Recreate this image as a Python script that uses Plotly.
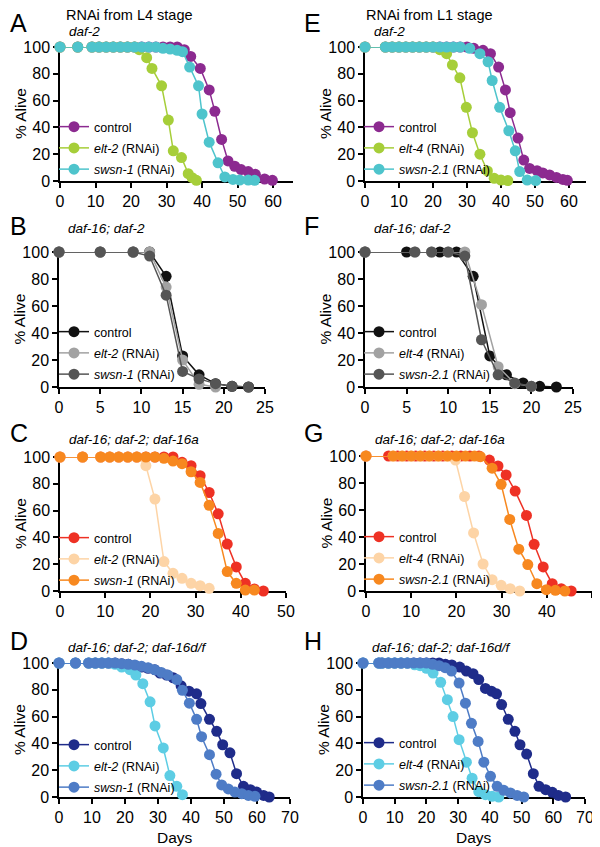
import plotly.graph_objects as go

W, H = 600, 847          # window size
OFF = 8                  # page body margin
FW, FH = W - OFF, H - OFF
FONT = "Liberation Sans, Arial, Helvetica, sans-serif"

# ---------------- data ----------------
# Panel A : daf-2, RNAi from L4
A_ctrl_x = [0, 5, 9, 11, 13, 15, 17, 19, 21, 23, 25, 27, 29, 31, 33, 35, 36.8, 39.5, 42, 43.6, 45.5, 47.3, 49.2, 51, 53, 55, 57.6, 59.8]
A_ctrl_y = [100, 100, 100, 100, 100, 100, 100, 100, 100, 100, 100, 100, 100, 100, 100, 98, 93, 84, 68, 52, 31, 15, 11, 8.5, 7, 5, 1.5, 0.5]
A_elt_x = [0, 5, 9, 11, 13, 15, 17, 19, 21, 22.3, 24.4, 25.9, 28.6, 30.5, 31.9, 34.2, 36.1, 37.2, 38.4]
A_elt_y = [100, 100, 100, 100, 100, 100, 100, 100, 100, 98, 92, 84, 71, 45.5, 22.5, 17.5, 5.5, 2.5, 0.5]
A_swsn_x = [0, 5, 9, 11, 13, 15, 17, 19, 21, 23, 25, 27, 29, 31, 33, 34.5, 36.5, 39, 40, 42, 44.5, 46.4, 48.7, 50.6, 53, 54.8]
A_swsn_y = [100, 100, 100, 100, 100, 100, 100, 100, 100, 100, 100, 100, 99, 98.5, 97.5, 96.5, 85, 71, 50, 29, 13.6, 3, 1.2, 0.7, 0.7, 0.5]

# Panel B : daf-16; daf-2, RNAi from L4
B_ctrl_x = [0, 5, 9, 11, 13, 15, 17, 19, 21, 23]
B_ctrl_y = [100, 100, 100, 100, 82, 23, 9, 2.5, 0.5, 0]
B_elt_x = [0, 5, 9, 11, 13, 15, 17, 19]
B_elt_y = [100, 100, 100, 100, 74, 20, 2, 0]
B_swsn_x = [0, 5, 9, 11, 13, 15, 17, 19, 21, 23]
B_swsn_y = [100, 100, 100, 97, 68, 11.5, 6, 2.5, 0.5, 0]

# Panel C : daf-16; daf-2; daf-16a, RNAi from L4
C_ctrl_x = [0, 5, 9, 11, 13, 15, 17, 19, 21, 23, 25, 27, 29, 31, 33, 35, 37, 39, 41, 43, 45]
C_ctrl_y = [100, 100, 100, 100, 100, 100, 100, 100, 100, 100, 100, 96, 93.5, 86, 73.5, 57.6, 35, 18, 5.7, 1.5, 0]
C_elt_x = [0, 5, 9, 11, 13, 15, 17, 19, 21, 23, 25, 27, 29, 31, 33]
C_elt_y = [100, 100, 100, 100, 100, 100, 100, 93.5, 68.6, 22, 13.2, 9.5, 5.7, 4, 2]
C_swsn_x = [0, 5, 9, 11, 13, 15, 17, 19, 21, 23, 25, 27, 29, 31, 33, 35, 37, 39, 41, 43]
C_swsn_y = [100, 100, 100, 100, 100, 100, 100, 100, 100, 99, 97, 95, 89, 81, 64, 43, 14.5, 5.7, 0.7, 0.7]

# Panel D : daf-16; daf-2; daf-16d/f, RNAi from L4
D_ctrl_x = [0, 5, 9, 11, 13, 15, 17, 19, 21, 23, 25, 27, 29, 30.6, 32.6, 34.6, 37, 39.4, 41.7, 43, 45.6, 47.8, 49.6, 51.8, 53.8, 55.9, 58, 59.9, 62, 63.7]
D_ctrl_y = [100, 100, 100, 100, 100, 100, 100, 99.5, 99, 98, 97, 96, 95, 92.5, 91, 89, 83, 79, 77, 69.7, 58, 49, 39, 33, 17.4, 8, 5.5, 3.7, 1.2, 0]
D_elt_x = [0, 5, 9, 11, 13, 15, 17, 19, 21.5, 23.3, 25.4, 27.6, 29.1, 31.6, 33.6, 35.7, 37.4]
D_elt_y = [100, 100, 100, 100, 100, 100, 99, 97, 95, 91, 84.6, 71, 53, 36.6, 16, 8, 1.7]
D_swsn_x = [0, 5, 9, 11, 13, 15, 17, 19, 21, 23, 25, 27, 29, 31, 33, 35.7, 37.4, 39.5, 41.7, 43.2, 45.6, 47.6, 49.3, 51.3, 53.3, 55.4, 57.4, 59.4]
D_swsn_y = [100, 100, 100, 100, 100, 100, 100, 99.5, 99, 98.5, 97.5, 96.5, 95, 93, 91, 87.6, 79.6, 70, 58, 45, 31.6, 17, 9, 6, 3.7, 2.5, 1.2, 0.5]

# Panel E : daf-2, RNAi from L1
E_ctrl_x = [0, 6, 8, 10, 12, 14, 16, 18, 20, 22, 24, 26, 28, 30, 32, 34.7, 36.9, 39.3, 41.3, 42.7, 45, 46.7, 48.4, 50.6, 52.3, 54.3, 56.3, 58.2, 59.5]
E_ctrl_y = [100, 100, 100, 100, 100, 100, 100, 100, 100, 100, 100, 100, 100, 100, 99, 97.5, 95, 85, 68, 51, 32, 15.6, 9.4, 7.7, 6, 4.5, 2.7, 1.2, 0.5]
E_elt_x = [0, 6, 8, 10, 12, 14, 16, 18, 20, 22, 24, 25.7, 27.9, 29.8, 31.6, 33.8, 36, 38, 40, 42]
E_elt_y = [100, 100, 100, 100, 100, 100, 100, 100, 100, 98, 95, 86.6, 77, 55, 36, 20, 7.5, 2, 0.7, 0.3]
E_swsn_x = [0, 6, 8, 10, 12, 14, 16, 18, 20, 22, 24, 26, 28, 30.8, 33.8, 36.2, 37.4, 39.6, 42.3, 44.2, 45.5, 47.7, 50.2]
E_swsn_y = [100, 100, 100, 100, 100, 100, 100, 100, 100, 100, 100, 100, 100, 99, 95, 89, 75, 55, 37.5, 22.5, 7, 0.7, 0.3]

# Panel F : daf-16; daf-2, RNAi from L1
F_ctrl_x = [0, 5, 9, 11, 13, 15, 17, 19, 21, 23]
F_ctrl_y = [100, 100, 100, 100, 82, 23, 9, 3, 0.5, 0]
F_elt_x = [0, 6, 8, 10, 12, 14, 16, 18, 20]
F_elt_y = [100, 100, 100, 100, 100, 61, 15, 2.5, 0.5]
F_swsn_x = [0, 6, 8, 10, 12, 14, 16, 18, 20]
F_swsn_y = [100, 100, 100, 100, 97, 35, 9, 3, 0.5]

# Panel G : daf-16; daf-2; daf-16a, RNAi from L1
G_ctrl_x = [0, 5, 7, 9, 11, 13, 15, 17, 19, 21, 23, 25, 27.3, 29.2, 31, 33, 35.5, 37.2, 39.2, 41.2, 43.2, 45.4]
G_ctrl_y = [100, 100, 100, 100, 100, 100, 100, 100, 100, 100, 100, 100, 97, 92.6, 86, 74, 56, 34.6, 17.8, 5.4, 1.7, 0]
G_elt_x = [0, 6, 8, 10, 12, 14, 16, 18, 19.8, 21.8, 23.8, 25.9, 27.9, 29.9, 31.9, 34]
G_elt_y = [100, 100, 100, 100, 100, 100, 100, 100, 97, 70, 43, 20, 8.4, 4.2, 1.7, 0]
G_swsn_x = [0, 6, 8, 10, 12, 14, 16, 18, 20, 22, 24, 25.3, 27.9, 29.9, 31.8, 33.8, 35.8, 37.8, 39.9, 41.9, 44]
G_swsn_y = [100, 100, 100, 100, 100, 100, 100, 100, 100, 100, 100, 99.5, 91, 79, 53, 31, 19.6, 5.4, 1, 0.5, 0]

# Panel H : daf-16; daf-2; daf-16d/f, RNAi from L1
H_ctrl_x = [0, 5, 6, 8, 10, 12, 14, 16, 18, 20, 22, 24, 26, 28, 30.5, 32.6, 34.7, 36.5, 38.6, 40.5, 42.1, 43.7, 45.8, 47.9, 49.5, 51.6, 53.7, 55.5, 57.6, 59.7, 61.6, 63.9]
H_ctrl_y = [100, 100, 100, 100, 100, 100, 100, 100, 100, 100, 100, 100, 99, 98.5, 97, 94, 92, 87.6, 81, 79, 77, 69, 58, 49, 39, 32, 17.4, 8, 5.5, 3.5, 1.2, 0]
H_elt_x = [0, 5, 6, 8, 10, 12, 14, 16.3, 18, 20, 22.1, 24.5, 26.6, 28.4, 30.3, 32.6, 34.4, 36.5, 38.6, 40.7, 42.8]
H_elt_y = [100, 100, 100, 100, 100, 100, 100, 98.7, 98, 96, 92.5, 85.6, 72.6, 60, 42.8, 26, 14, 4, 1.7, 0.5, 0]
H_swsn_x = [0, 5, 6, 8, 10, 12, 14, 16, 18, 20, 22, 24, 25.9, 27.9, 30.3, 32.3, 34.2, 36.3, 38.1, 40.2, 42.3, 44.4, 46.5, 48.6, 50.7]
H_swsn_y = [100, 100, 100, 100, 100, 100, 100, 100, 100, 100, 99, 98, 96.5, 94, 85, 70, 55, 41.5, 26, 15.4, 8, 5, 3, 1.2, 0]

# ---------------- labels & styles ----------------
panel_letters = ["A", "B", "C", "D", "E", "F", "G", "H"]
strains = ["daf-2", "daf-16; daf-2", "daf-16; daf-2; daf-16a", "daf-16; daf-2; daf-16d/f"] * 2
L4_labels = ["control", "<i>elt-2</i> (RNAi)", "<i>swsn-1</i> (RNAi)"]
L1_labels = ["control", "<i>elt-4</i> (RNAi)", "<i>swsn-2.1</i> (RNAi)"]
headers = ["RNAi from L4 stage", "RNAi from L1 stage"]

color_sets = {
    "daf2": ["#8C2A90", "#A6CE39", "#4EC4CC"],
    "gray": ["#111111", "#A2A2A2", "#555555"],
    "a": ["#EE3124", "#FDD4A6", "#F7881F"],
    "df": ["#1F2C8A", "#5DCDE4", "#4E7CC6"],
}

# box = (x0, x1, ytop, ybottom) in screen px; lg = (legend x, first item centre y); let/sub = label centre y
panels = [
    dict(data=[(A_ctrl_x, A_ctrl_y), (A_elt_x, A_elt_y), (A_swsn_x, A_swsn_y)], box=(60, 293, 47, 181), xr=65.6, dt=10, col="daf2", labels=L4_labels, lg=(54, 126), let=23, sub=32),
    dict(data=[(B_ctrl_x, B_ctrl_y), (B_elt_x, B_elt_y), (B_swsn_x, B_swsn_y)], box=(59, 265, 252, 387), xr=25, dt=5, col="gray", labels=L4_labels, lg=(54, 331), let=226, sub=228),
    dict(data=[(C_ctrl_x, C_ctrl_y), (C_elt_x, C_elt_y), (C_swsn_x, C_swsn_y)], box=(60, 286, 457, 591), xr=50, dt=10, col="a", labels=L4_labels, lg=(54, 537), let=433, sub=439),
    dict(data=[(D_ctrl_x, D_ctrl_y), (D_elt_x, D_elt_y), (D_swsn_x, D_swsn_y)], box=(59, 290, 663, 797), xr=70, dt=10, col="df", labels=L4_labels, lg=(54, 744), let=641, sub=647),
    dict(data=[(E_ctrl_x, E_ctrl_y), (E_elt_x, E_elt_y), (E_swsn_x, E_swsn_y)], box=(365, 586, 47, 181), xr=65, dt=10, col="daf2", labels=L1_labels, lg=(359, 126), let=23, sub=32),
    dict(data=[(F_ctrl_x, F_ctrl_y), (F_elt_x, F_elt_y), (F_swsn_x, F_swsn_y)], box=(365, 573, 252, 387), xr=25, dt=5, col="gray", labels=L1_labels, lg=(359, 331), let=226, sub=228),
    dict(data=[(G_ctrl_x, G_ctrl_y), (G_elt_x, G_elt_y), (G_swsn_x, G_swsn_y)], box=(366, 592, 456, 591), xr=50, dt=10, col="a", labels=L1_labels, lg=(359, 536), let=433, sub=439),
    dict(data=[(H_ctrl_x, H_ctrl_y), (H_elt_x, H_elt_y), (H_swsn_x, H_swsn_y)], box=(363, 585, 663, 797), xr=70, dt=10, col="df", labels=L1_labels, lg=(359, 742), let=641, sub=647),
]


def px_x(v):
    # screen pixel -> paper fraction (figure sits OFF px from the page edge)
    return (v - OFF) / FW


def px_y(v):
    return 1 - (v - OFF) / FH


fig = go.Figure()
layout = dict(
    width=FW, height=FH,
    margin=dict(l=0, r=0, t=0, b=0, pad=0, autoexpand=False),
    paper_bgcolor="white", plot_bgcolor="white",
    font=dict(family=FONT, color="black", size=15),
    showlegend=True,
)
annotations = []

for i, p in enumerate(panels):
    n = i + 1
    sfx = "" if n == 1 else str(n)
    legname = "legend" + sfx
    cols = color_sets[p["col"]]
    for j, (xs, ys) in enumerate(p["data"]):
        fig.add_trace(go.Scatter(
            x=xs, y=ys, mode="lines+markers", name=p["labels"][j],
            marker=dict(size=11, color=cols[j], line=dict(width=0)),
            line=dict(color=cols[j], width=1.5),
            xaxis="x" + sfx, yaxis="y" + sfx, legend=legname,
            legendgroup=f"p{n}_{j}", cliponaxis=False, hoverinfo="x+y+name",
        ))
    x0, x1, yt, yb = p["box"]
    axis_common = dict(showline=True, linecolor="black", linewidth=1.5, ticks="outside",
                       ticklen=5, tickwidth=1.5, tickcolor="black", showgrid=False,
                       zeroline=False, tickfont=dict(family=FONT, size=16, color="black"),
                       layer="below traces", fixedrange=True, automargin=False)
    layout["xaxis" + sfx] = dict(domain=[px_x(x0), px_x(x1)], range=[0, p["xr"]], dtick=p["dt"], tick0=0,
                                 anchor="y" + sfx, **axis_common)
    layout["yaxis" + sfx] = dict(domain=[px_y(yb), px_y(yt)], range=[0, 100], dtick=20, tick0=0,
                                 anchor="x" + sfx, **axis_common)
    lx, ly = p["lg"]
    layout[legname] = dict(x=px_x(lx), y=px_y(ly - 14), xanchor="left", yanchor="top",
                           bgcolor="rgba(0,0,0,0)", font=dict(family=FONT, size=12.5, color="black"),
                           traceorder="grouped", tracegroupgap=2, itemclick=False, itemdoubleclick=False)
    col_left = OFF if n <= 4 else 302
    annotations.append(dict(text=panel_letters[i], x=px_x(col_left), y=px_y(p["let"]), xref="paper", yref="paper",
                            xanchor="left", yanchor="middle", showarrow=False,
                            font=dict(family=FONT, size=25, color="black")))
    annotations.append(dict(text="<i>" + strains[i] + "</i>", x=px_x(x0 + 7), y=px_y(p["sub"]), xref="paper", yref="paper",
                            xanchor="left", yanchor="middle", showarrow=False,
                            font=dict(family=FONT, size=13.5, color="black")))
    annotations.append(dict(text="% Alive", x=px_x(x0 - 40), y=px_y((yt + yb) / 2), xref="paper", yref="paper",
                            xanchor="center", yanchor="middle", textangle=-90, showarrow=False,
                            font=dict(family=FONT, size=15.5, color="black")))
    if n in (4, 8):
        annotations.append(dict(text="Days", x=px_x((x0 + x1) / 2), y=px_y(837), xref="paper", yref="paper",
                                xanchor="center", yanchor="middle", showarrow=False,
                                font=dict(family=FONT, size=15.5, color="black")))

for k, hx in enumerate([129, 429]):
    annotations.append(dict(text=headers[k], x=px_x(hx), y=px_y(15), xref="paper", yref="paper",
                            xanchor="center", yanchor="middle", showarrow=False,
                            font=dict(family=FONT, size=14.5, color="black")))
layout["annotations"] = annotations
fig.update_layout(**layout)

fig.write_html("out.html", config={"displayModeBar": False})
